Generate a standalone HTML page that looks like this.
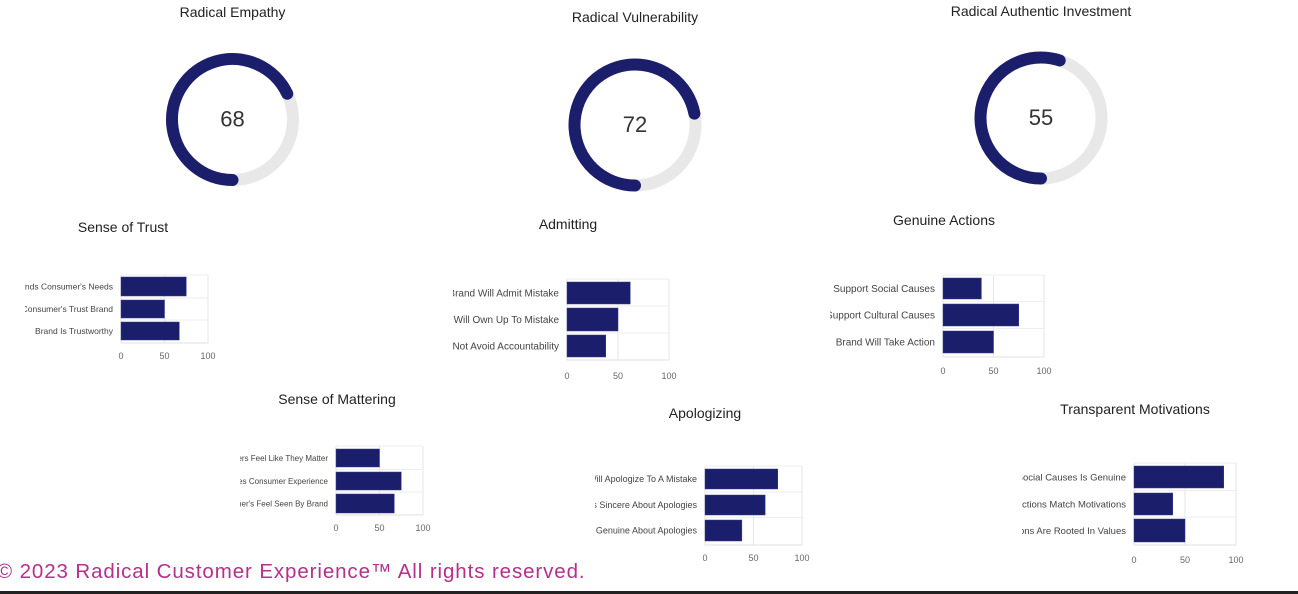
<!DOCTYPE html>
<html><head><meta charset="utf-8">
<style>
body{margin:0;width:1298px;height:594px;background:#fff;overflow:hidden;position:relative;font-family:"Liberation Sans",sans-serif;}
svg{position:absolute;left:0;top:0;}
</style></head>
<body>
<svg id="s" width="1298" height="594"></svg>
<script>
const gaugeTitles=["Radical Empathy","Radical Vulnerability","Radical Authentic Investment"];
const gaugeValues=[68,72,55];
const chartTitles=["Sense of Trust","Admitting","Genuine Actions","Sense of Mattering","Apologizing","Transparent Motivations"];
const chartCats=[
 ["Brand Understands Consumer's Needs","Consumer's Trust Brand","Brand Is Trustworthy"],
 ["Brand Will Admit Mistake","Brand Will Own Up To Mistake","Brand Will Not Avoid Accountability"],
 ["Brand Will Support Social Causes","Brand Will Support Cultural Causes","Brand Will Take Action"],
 ["Consumers Feel Like They Matter","Brand Values Consumer Experience","Consumer's Feel Seen By Brand"],
 ["Brand Will Apologize To A Mistake","Brand Is Sincere About Apologies","Brand Is Genuine About Apologies"],
 ["Support Of Social Causes Is Genuine","Brand Actions Match Motivations","Brand Actions Are Rooted In Values"]
];
const chartValues=[[75,50,67],[62,50,38],[38,75,50],[50,75,67],[75,62,38],[88,38,50]];
const tickLabels=[0,50,100];

const NS="http://www.w3.org/2000/svg";
const svg=document.getElementById('s');
function mk(t,a,p){const e=document.createElementNS(NS,t);for(const k in a)e.setAttribute(k,a[k]);(p||svg).appendChild(e);return e;}

const gl=[{cx:232.5,cy:119.5,ty:17},{cx:635,cy:125,ty:22},{cx:1041,cy:118,ty:16}];
gaugeValues.forEach((v,i)=>{
 const g=gl[i],r=60.5;
 const t=mk('text',{x:g.cx,y:g.ty,'text-anchor':'middle','font-size':14,fill:'#222'});
 t.textContent=gaugeTitles[i];
 
 
 const bg=mk('circle',{cx:g.cx,cy:g.cy,r:r,fill:'none',stroke:'#e8e8e8','stroke-width':12});
 
 
 const a0=Math.PI, a1=Math.PI+v/100*2*Math.PI;
 const px=a=>g.cx+r*Math.sin(a), py=a=>g.cy-r*Math.cos(a);
 const large=(v/100*360)>180?1:0;
 const arc=mk('path',{d:`M${px(a0)},${py(a0)} A${r},${r} 0 ${large} 1 ${px(a1)},${py(a1)}`,fill:'none',stroke:'#1b1f6b','stroke-width':12,'stroke-linecap':'round'});
 
 
 const n=mk('text',{x:g.cx,y:g.cy+7,'text-anchor':'middle','font-size':22,fill:'#333'});
 n.textContent=v;
 
 
});

const bl=[
 {title:[123,232],l:121,r:208,top:275,bot:343,bars:[[277,296],[300,318],[322,340]],tick:359,clip:25,fs:8.5},
 {title:[568,229],l:567,r:669,top:279,bot:360,bars:[[282,304],[308,331],[335,357]],tick:379,clip:453,fs:10},
 {title:[944,225],l:943,r:1044,top:275,bot:357,bars:[[278,299],[304,326],[331,353]],tick:374,clip:830,fs:10},
 {title:[337,404],l:336,r:423,top:446,bot:515,bars:[[449,467],[472,490],[494,513]],tick:531,clip:240,fs:8},
 {title:[705,418],l:705,r:802,top:466,bot:545,bars:[[469,489],[495,515],[520,541]],tick:561,clip:595,fs:9},
 {title:[1135,414],l:1134,r:1236,top:463,bot:545,bars:[[466,488],[493,515],[519,542]],tick:563,clip:1022,fs:9.5}
];
chartValues.forEach((vals,i)=>{
 const L=bl[i];
 const g=mk('g',{});
 
 
 const xs=v=>L.l+(L.r-L.l)*v/100;
 const t=mk('text',{x:L.title[0],y:L.title[1],'text-anchor':'middle','font-size':14,fill:'#222'},g);
 t.textContent=chartTitles[i];
 
 
 tickLabels.forEach(tv=>{
  const x=xs(tv);
  const gl=mk('line',{x1:x,x2:x,y1:L.top,y2:L.bot,stroke:'#e6e6e6','stroke-width':1},g);
  
  
  const tl=mk('text',{x:x,y:L.tick,'text-anchor':'middle','font-size':9,fill:'#666'},g);
  tl.textContent=tv;
  
  
 });
 mk('line',{x1:L.l,x2:L.r,y1:L.top,y2:L.top,stroke:'#eee'},g);
 mk('line',{x1:L.l,x2:L.r,y1:L.bot,y2:L.bot,stroke:'#e0e0e0'},g);
 const cid='c'+i;
 const cp=mk('clipPath',{id:cid},g);
 mk('rect',{x:L.clip,y:L.top-5,width:L.l-L.clip,height:L.bot-L.top+10},cp);
 vals.forEach((v,j)=>{
  const [y0,y1]=L.bars[j];
  if(j>0){mk('line',{x1:L.l,x2:L.r,y1:(L.bars[j-1][1]+y0)/2,y2:(L.bars[j-1][1]+y0)/2,stroke:'#eee'},g);}
  const b=mk('rect',{x:L.l,y:y0,width:xs(v)-L.l,height:y1-y0,fill:'#1b1f6b',stroke:'#3a3f86','stroke-width':0.5},g);
  
  
  const lb=mk('text',{x:L.l-8,y:(y0+y1)/2+L.fs*0.35,'text-anchor':'end','font-size':L.fs,fill:'#444','clip-path':`url(#${cid})`},g);
  lb.textContent=chartCats[i][j];
  
  
 });
});
const f=mk('text',{x:-3,y:578,'font-size':20.5,fill:'#b5308a','letter-spacing':0.9});
f.textContent="© 2023 Radical Customer Experience™ All rights reserved.";


const bl2=mk('rect',{x:0,y:591,width:1298,height:3,fill:'#222'});


</script>
</body></html>
